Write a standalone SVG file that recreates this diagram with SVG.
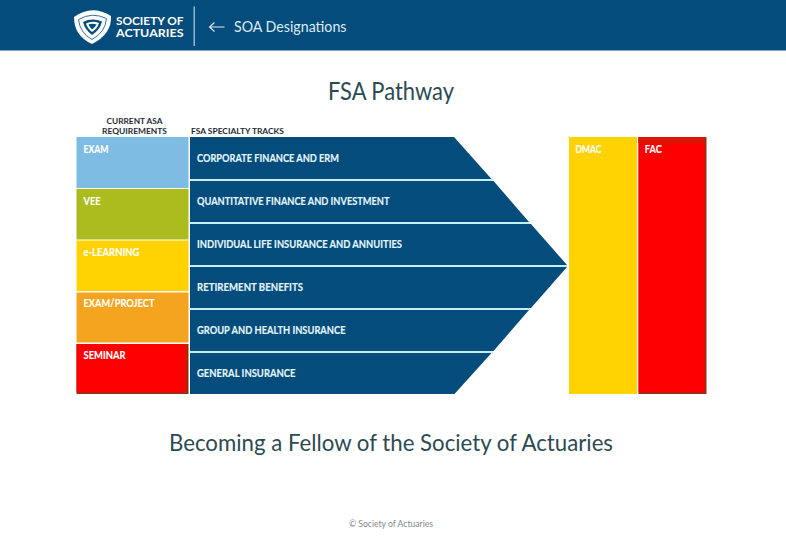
<svg xmlns="http://www.w3.org/2000/svg" width="786" height="536" viewBox="0 0 786 536">
<style>
text{font-family:Lato,"Noto Sans","Liberation Sans",sans-serif}
.hd{font-size:8.400px;font-weight:700;fill:#1d2b33;text-anchor:middle}
.lb{font-size:10.500px;font-weight:700;fill:#fff;stroke:#fff;stroke-width:.15px}
.tr{font-size:10.500px;font-weight:700;fill:#e4f7fc;stroke:#e4f7fc;stroke-width:.15px}
.track{fill:#044c7c}
.ttl{fill:#2c4a52}
.sep{fill:#c4eef8}
</style>
<rect width="786" height="536" fill="#fff"/>
<g id="header">
<rect width="786" height="50.500" fill="#044c7c"/>
<g id="logo">
<path d="M74 17Q92 4 111 16Q112 34 92 44Q74 36 74 17Z" fill="#fff"/>
<path d="M78.500 19.500Q92 11.500 106.500 18.500Q105.500 32 92 39.500Q80 33 78.500 19.500Z" fill="none" stroke="#044c7c" stroke-width="0.800"/>
<path d="M83 22Q92 17.500 102 21.500Q100 30 92 35Q85 30 83 22Z" fill="#044c7c"/>
<path d="M86 23.500Q92 20.500 99 23Q97.500 28.500 92 32Q87.500 28.500 86 23.500Z" fill="#fff"/>
<path d="M88.500 24.500Q92 23 96.500 24.500Q95.500 27 92 29.500Q89.500 27 88.500 24.500Z" fill="#044c7c"/>
</g>
<text x="116" y="25" font-size="11.500" font-weight="700" fill="#fff" textLength="67.500" lengthAdjust="spacingAndGlyphs">SOCIETY OF</text>
<text x="116" y="36.500" font-size="11.500" font-weight="700" fill="#fff" textLength="67.500" lengthAdjust="spacingAndGlyphs">ACTUARIES</text>
<rect x="193.500" y="6.500" width="1.500" height="39.500" fill="#8fb9d2"/>
<path d="M224.500 27H209.500M214.500 22.500L209.500 27L214.500 31.500" fill="none" stroke="#dcebf3" stroke-width="1.100"/>
<text x="234" y="32" font-size="14.500" fill="#dcebf3" textLength="112.500" lengthAdjust="spacingAndGlyphs">SOA Designations</text>
</g>
<text class="ttl" x="391" y="100" font-size="24.500" text-anchor="middle" textLength="126" lengthAdjust="spacingAndGlyphs">FSA Pathway</text>
<text class="hd" x="134.500" y="124" textLength="56" lengthAdjust="spacingAndGlyphs">CURRENT ASA</text>
<text class="hd" x="134.500" y="133.500" textLength="65" lengthAdjust="spacingAndGlyphs">REQUIREMENTS</text>
<text class="hd" x="237.500" y="133.500" textLength="93" lengthAdjust="spacingAndGlyphs">FSA SPECIALTY TRACKS</text>
<g id="asa-exam"><rect x="76.500" y="137" width="112" height="51" fill="#7fbce3"/><text class="lb" x="83.500" y="152.700" textLength="25" lengthAdjust="spacingAndGlyphs">EXAM</text></g>
<g id="asa-vee"><rect x="76.500" y="189" width="112" height="50.500" fill="#acbb1e"/><text class="lb" x="83.500" y="204.700" textLength="17" lengthAdjust="spacingAndGlyphs">VEE</text></g>
<g id="asa-elearning"><rect x="76.500" y="240.500" width="112" height="50.500" fill="#ffd200"/><text class="lb" x="83.500" y="256" textLength="56" lengthAdjust="spacingAndGlyphs">e-LEARNING</text></g>
<g id="asa-examproject"><rect x="76.500" y="292.500" width="112" height="50" fill="#f4a41e"/><text class="lb" x="83.500" y="307.200" textLength="71" lengthAdjust="spacingAndGlyphs">EXAM/PROJECT</text></g>
<g id="asa-seminar"><rect x="76.500" y="344" width="112" height="50" fill="#7f3a10"/><rect x="76.500" y="344" width="110" height="48.500" fill="#ff0000"/><text class="lb" x="83.500" y="359.200" textLength="42" lengthAdjust="spacingAndGlyphs">SEMINAR</text></g>
<g id="track-corporate"><polygon class="track" points="190,137 454,137 491.500,179 190,179"/><text class="tr" x="197" y="162" textLength="142" lengthAdjust="spacingAndGlyphs">CORPORATE FINANCE AND ERM</text></g>
<rect class="sep" x="190" y="179" width="303" height="2"/>
<g id="track-quant"><polygon class="track" points="190,181 493.500,181 529,222 190,222"/><text class="tr" x="197" y="205" textLength="192.500" lengthAdjust="spacingAndGlyphs">QUANTITATIVE FINANCE AND INVESTMENT</text></g>
<rect class="sep" x="190" y="222" width="340" height="2"/>
<g id="track-life"><polygon class="track" points="190,224 531,224 567,265 190,265"/><text class="tr" x="197" y="248" textLength="205" lengthAdjust="spacingAndGlyphs">INDIVIDUAL LIFE INSURANCE AND ANNUITIES</text></g>
<rect class="sep" x="190" y="265" width="377" height="2"/>
<g id="track-retirement"><polygon class="track" points="190,267 567,267 531,308 190,308"/><text class="tr" x="197" y="291" textLength="106" lengthAdjust="spacingAndGlyphs">RETIREMENT BENEFITS</text></g>
<rect class="sep" x="190" y="308" width="340" height="2"/>
<g id="track-health"><polygon class="track" points="190,310 529,310 493.500,351 190,351"/><text class="tr" x="197" y="334" textLength="148.500" lengthAdjust="spacingAndGlyphs">GROUP AND HEALTH INSURANCE</text></g>
<rect class="sep" x="190" y="351" width="303" height="2"/>
<g id="track-general"><polygon class="track" points="190,353 491.500,353 454.500,394 190,394"/><text class="tr" x="197" y="377" textLength="98.500" lengthAdjust="spacingAndGlyphs">GENERAL INSURANCE</text></g>
<g id="dmac"><rect x="569" y="137" width="68" height="257" fill="#ffd200"/><text class="lb" x="575.500" y="152.700" textLength="26" lengthAdjust="spacingAndGlyphs">DMAC</text></g>
<g id="fac"><rect x="638.500" y="137" width="68" height="257" fill="#7f3a10"/><rect x="638.500" y="137" width="66.500" height="255.500" fill="#ff0000"/><rect x="638.500" y="137" width="66.500" height="6" fill="#d81500"/><text class="lb" x="644.800" y="152.700" textLength="17" lengthAdjust="spacingAndGlyphs">FAC</text></g>
<text class="ttl" x="391" y="451" font-size="23.500" text-anchor="middle" textLength="444" lengthAdjust="spacingAndGlyphs">Becoming a Fellow of the Society of Actuaries</text>
<text x="391" y="527" font-size="9.500" fill="#7d8a90" text-anchor="middle" textLength="84" lengthAdjust="spacingAndGlyphs">© Society of Actuaries</text>
</svg>
